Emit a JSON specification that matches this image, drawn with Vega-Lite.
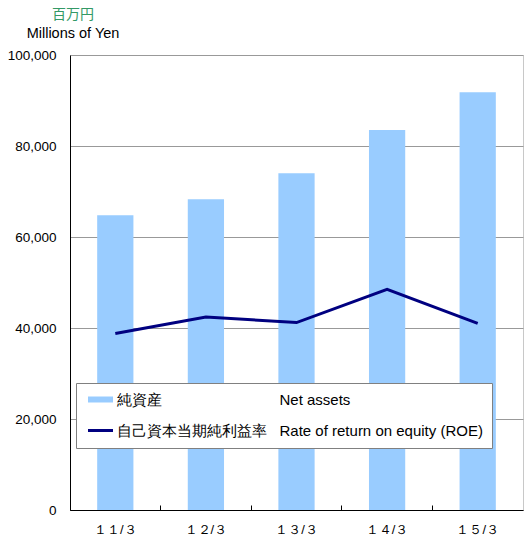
{
  "$schema": "https://vega.github.io/schema/vega-lite/v6.json",
  "width": 453,
  "height": 455,
  "autosize": "none",
  "padding": {"left": 70, "top": 55, "right": 2, "bottom": 29},
  "background": "white",
  "config": {"view": {"stroke": "#c8c8c8"}, "font": "Liberation Sans"},
  "title": {
    "text": "百万円",
    "subtitle": "Millions of Yen",
    "anchor": "start",
    "frame": "group",
    "align": "center",
    "dx": 3,
    "offset": 8,
    "fontSize": 14,
    "fontWeight": "normal",
    "color": "#339966",
    "font": "Noto Sans CJK JP",
    "subtitleFontSize": 14.5,
    "subtitleColor": "#000000",
    "subtitleFont": "Liberation Sans",
    "subtitlePadding": 5
  },
  "data": {
    "values": [
      {"year": "１１/３", "net_assets": 64800, "roe": 3.88},
      {"year": "１２/３", "net_assets": 68300, "roe": 4.24},
      {"year": "１３/３", "net_assets": 74000, "roe": 4.12},
      {"year": "１４/３", "net_assets": 83500, "roe": 4.85},
      {"year": "１５/３", "net_assets": 91800, "roe": 4.10}
    ]
  },
  "encoding": {
    "x": {
      "field": "year",
      "type": "ordinal",
      "sort": null,
      "scale": {"paddingInner": 0, "paddingOuter": 0},
      "axis": {
        "title": null,
        "labelAngle": 0,
        "bandPosition": 0,
        "ticks": true,
        "tickSize": -5,
        "tickColor": "black",
        "domainColor": "black",
        "labelFontSize": 13,
        "labelPadding": 18,
        "grid": false,
        "labelFont": "Liberation Sans",
        "labelColor": "black"
      }
    }
  },
  "layer": [
    {
      "mark": {"type": "bar", "color": "#99ccff", "width": {"band": 0.4}},
      "encoding": {
        "y": {
          "field": "net_assets",
          "type": "quantitative",
          "scale": {"domain": [0, 100000]},
          "axis": {
            "title": null,
            "values": [0, 20000, 40000, 60000, 80000, 100000],
            "format": ",d",
            "grid": true,
            "gridColor": "#999999",
            "ticks": false,
            "labelPadding": 14,
            "labelFontSize": 13.5,
            "domainColor": "black",
            "labelColor": "black",
            "labelFont": "Liberation Sans"
          }
        },
        "color": {
          "datum": "純資産",
          "type": "nominal",
          "scale": {"domain": ["純資産", "自己資本当期純利益率"], "range": ["#99ccff", "#000080"]},
          "legend": {
            "orient": "none",
            "legendX": 6,
            "legendY": 328,
            "title": null,
            "direction": "vertical",
            "fillColor": "white",
            "strokeColor": "#808080",
            "padding": 9,
            "rowPadding": 15,
            "symbolSize": 225,
            "labelFontSize": 15,
            "labelFont": "Liberation Sans",
            "labelOffset": 17,
            "labelLimit": 0,
            "labelColor": "black",
            "labelExpr": "datum.label == '純資産' ? '純資産\u3000\u3000\u3000\u3000\u3000\u3000\u3000\u00a0\u00a0\u00a0Net assets' : datum.label + '\u00a0\u00a0\u00a0Rate of return on equity (ROE)'",
            "encode": {
              "symbols": {
                "update": {
                  "shape": {"signal": "datum.value == '純資産' ? 'M-0.6,-0.4H2.73V0.4H-0.6Z' : 'M-0.6,-0.2H2.73V0.2H-0.6Z'"},
                  "fill": {"signal": "datum.value == '純資産' ? '#99ccff' : '#000080'"},
                  "stroke": {"value": "transparent"},
                  "strokeWidth": {"value": 0},
                  "opacity": {"value": 1}
                }
              }
            }
          }
        }
      }
    },
    {
      "mark": {"type": "line", "strokeWidth": 3},
      "encoding": {
        "y": {"field": "roe", "type": "quantitative", "scale": {"domain": [0, 10]}, "axis": null},
        "color": {"datum": "自己資本当期純利益率", "type": "nominal"}
      }
    }
  ],
  "resolve": {"scale": {"y": "independent"}}
}
